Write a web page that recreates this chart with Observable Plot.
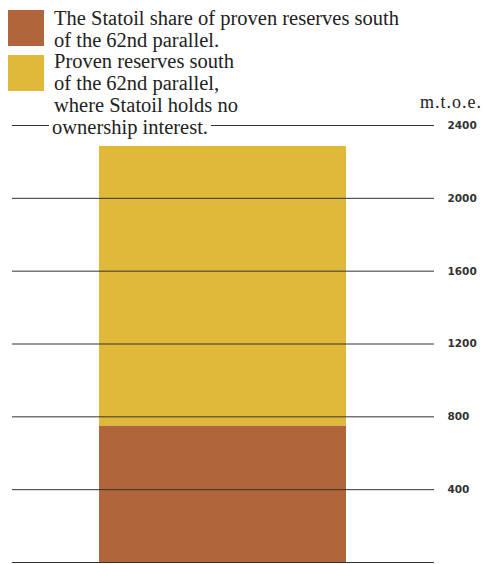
<!DOCTYPE html>
<html>
<head>
<meta charset="utf-8">
<script src="https://cdn.jsdelivr.net/npm/d3@7"></script>
<script src="https://cdn.jsdelivr.net/npm/@observablehq/plot@0.6"></script>
<style>
  html, body { margin: 0; padding: 0; background: #fff; }
  #wrap { position: relative; width: 486px; height: 564px; overflow: hidden; }
  #chart { position: absolute; left: 0; top: 0; }
  .sw { position: absolute; left: 8px; width: 36px; height: 36px; }
  .lt { position: absolute; left: 54px; font-family: "Liberation Serif", "DejaVu Serif", serif; font-size: 20.5px; line-height: 22px; color: #222; white-space: nowrap; }
  .unit { position: absolute; left: 420px; top: 93px; font-family: "Liberation Serif", serif; font-size: 18px; line-height: 18px; letter-spacing: 1px; color: #222; }
</style>
</head>
<body>
<div id="wrap">
  <div id="chart"></div>
</div>
<script>
const categories = ["South of 62nd parallel"];
const series = ["The Statoil share of proven reserves south of the 62nd parallel.", "Proven reserves south of the 62nd parallel, where Statoil holds no ownership interest."];
const statoilShare = [750];
const noInterest = [1535];
const tickValues = [0, 400, 800, 1200, 1600, 2000, 2400];
const tickLabels = ["", "400", "800", "1200", "1600", "2000", "2400"];
const colors = ["#b0663a", "#e0b83a"];

const data = [];
categories.forEach((c, i) => {
  data.push({cat: c, series: series[0], value: statoilShare[i]});
  data.push({cat: c, series: series[1], value: noInterest[i]});
});

const chart = Plot.plot({
  width: 486,
  height: 564,
  marginTop: 125,
  marginBottom: 2,
  marginLeft: 12,
  marginRight: 52,
  x: {type: "band", domain: categories, padding: 0.26, axis: null},
  y: {domain: [0, 2400], axis: null},
  color: {domain: series, range: colors},
  marks: [
    Plot.barY(data, {x: "cat", y: "value", fill: "series", order: series}),
    Plot.ruleY(tickValues, {stroke: "#333", strokeWidth: 1}),
    Plot.axisY({anchor: "right", ticks: tickValues, tickFormat: (d) => tickLabels[tickValues.indexOf(d)], tickSize: 0, tickPadding: 13, fontSize: 10.5, fontWeight: 600, fontFamily: "DejaVu Sans", fill: "#333", label: null})
  ]
});
document.getElementById("chart").appendChild(chart);

const wrap = document.getElementById("wrap");
const legend = [
  {top: 10, color: colors[0], lines: ["The Statoil share of proven reserves south", "of the 62nd parallel."], ttop: 7},
  {top: 55, color: colors[1], lines: ["Proven reserves south", "of the 62nd parallel,", "where Statoil holds no", "ownership interest."], ttop: 50}
];
legend.forEach(l => {
  const s = document.createElement("div");
  s.className = "sw"; s.style.top = l.top + "px"; s.style.background = l.color;
  wrap.appendChild(s);
  l.lines.forEach((t, j) => {
    const d = document.createElement("div");
    d.className = "lt"; d.style.top = (l.ttop + j * 22) + "px";
    const sp = document.createElement("span");
    sp.textContent = t;
    if (j === l.lines.length - 1 && l.lines.length === 4) { sp.style.background = "#fff"; sp.style.padding = "0 3px"; d.style.left = "49px"; }
    d.appendChild(sp);
    wrap.appendChild(d);
  });
});
const u = document.createElement("div");
u.className = "unit"; u.textContent = "m.t.o.e.";
wrap.appendChild(u);
</script>
</body>
</html>
